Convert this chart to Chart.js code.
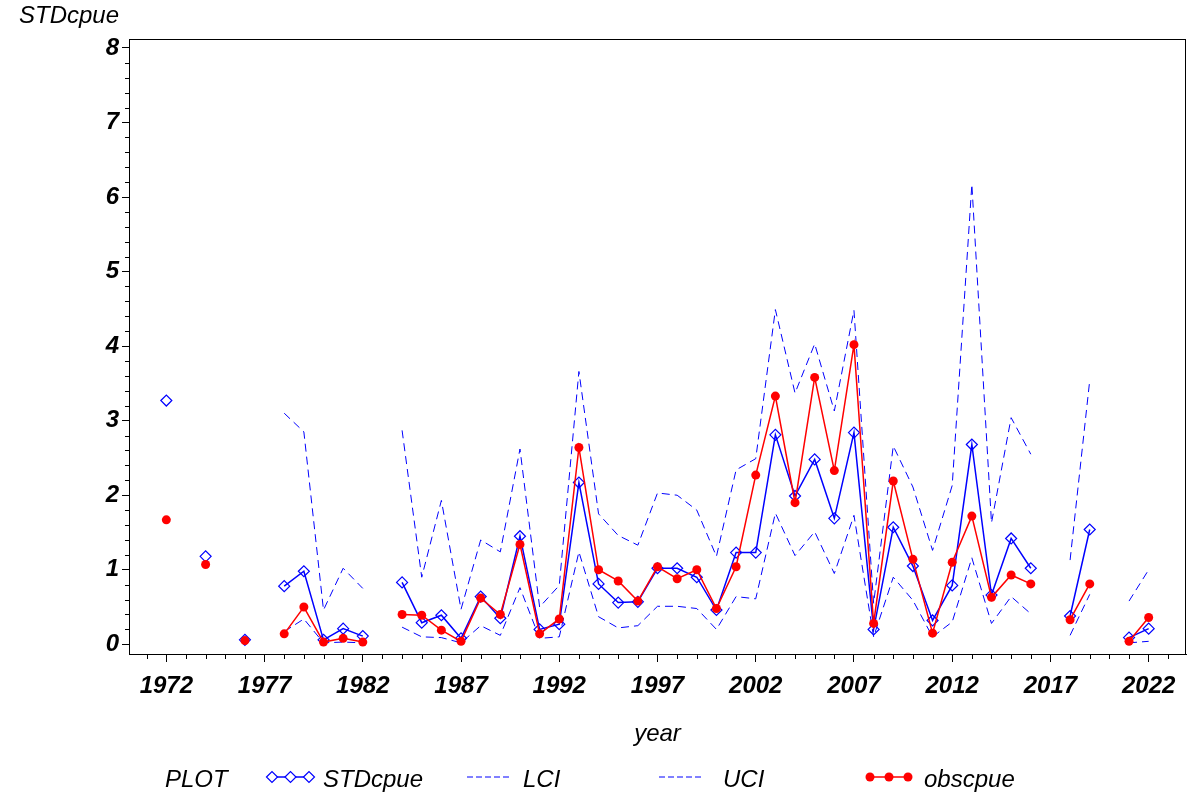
<!DOCTYPE html>
<html>
<head>
<meta charset="utf-8">
<title>STDcpue by year</title>
<script src="https://cdn.jsdelivr.net/npm/chart.js@4.4.0/dist/chart.umd.min.js"></script>
<style>
  html, body { margin: 0; padding: 0; background: #fff; }
  #wrap { width: 1202px; height: 794px; }
</style>
</head>
<body>
<div id="wrap"><canvas id="chartCanvas" width="1202" height="794"></canvas></div>
<script>
// Values (null = no value for that year)
const years = [
  1972, 1973, 1974, 1975, 1976, 1977, 1978, 1979, 1980, 1981,
  1982, 1983, 1984, 1985, 1986, 1987, 1988, 1989, 1990, 1991,
  1992, 1993, 1994, 1995, 1996, 1997, 1998, 1999, 2000, 2001,
  2002, 2003, 2004, 2005, 2006, 2007, 2008, 2009, 2010, 2011,
  2012, 2013, 2014, 2015, 2016, 2017, 2018, 2019, 2020, 2021,
  2022
];
const stdCpue = [
  3.27, null, 1.18, null, 0.06, null, 0.78, 0.98, 0.06, 0.21,
  0.11, null, 0.83, 0.29, 0.39, 0.08, 0.64, 0.35, 1.45, 0.20,
  0.27, 2.17, 0.81, 0.56, 0.57, 1.02, 1.02, 0.90, 0.46, 1.23,
  1.23, 2.81, 1.99, 2.48, 1.69, 2.84, 0.20, 1.57, 1.05, 0.32,
  0.79, 2.68, 0.66, 1.42, 1.02, null, 0.38, 1.54, null, 0.09,
  0.21
];
const obsCpue = [
  1.67, null, 1.07, null, 0.05, null, 0.14, 0.50, 0.03, 0.08,
  0.03, null, 0.40, 0.39, 0.19, 0.04, 0.62, 0.40, 1.34, 0.14,
  0.34, 2.64, 1.00, 0.85, 0.58, 1.04, 0.88, 1.00, 0.48, 1.04,
  2.27, 3.33, 1.90, 3.58, 2.33, 4.02, 0.28, 2.19, 1.14, 0.15,
  1.10, 1.72, 0.63, 0.93, 0.81, null, 0.33, 0.81, null, 0.04,
  0.36
];
const lci = [
  null, null, null, null, null, null, 0.17, 0.34, 0.02, 0.03,
  0.02, null, 0.23, 0.10, 0.09, 0.02, 0.25, 0.12, 0.76, 0.08,
  0.10, 1.24, 0.37, 0.22, 0.25, 0.51, 0.51, 0.48, 0.20, 0.64,
  0.61, 1.76, 1.19, 1.51, 0.95, 1.73, 0.10, 0.90, 0.59, 0.10,
  0.30, 1.16, 0.28, 0.64, 0.41, null, 0.12, 0.67, null, 0.02,
  0.04
];
const uci = [
  null, null, null, null, null, null, 3.10, 2.85, 0.46, 1.02,
  0.75, null, 2.87, 0.90, 1.93, 0.47, 1.40, 1.24, 2.62, 0.50,
  0.79, 3.66, 1.75, 1.46, 1.33, 2.03, 2.00, 1.80, 1.18, 2.34,
  2.49, 4.49, 3.37, 4.03, 3.13, 4.48, 0.55, 2.66, 2.11, 1.26,
  2.13, 6.17, 1.63, 3.04, 2.55, null, 1.13, 3.54, null, 0.58,
  1.00
];
const xTicks = [1972, 1977, 1982, 1987, 1992, 1997, 2002, 2007, 2012, 2017, 2022];
const yTicks = [0, 1, 2, 3, 4, 5, 6, 7, 8];

const FONT = '"Liberation Sans", Arial, Helvetica, sans-serif';
const BLUE = '#0000ff';
const RED = '#ff0000';

const toPoints = arr => years.map((yr, i) => ({ x: yr, y: arr[i] }));

// Minor ticks, top/right frame, the horizontal y title and the bottom legend
const decorations = {
  id: 'decorations',
  afterDraw(chart) {
    const { ctx, chartArea: a, scales: { x, y } } = chart;
    ctx.save();
    ctx.strokeStyle = '#000';
    ctx.lineWidth = 1;
    ctx.strokeRect(a.left + 0.5, a.top + 0.5, a.right - a.left - 1, a.bottom - a.top);

    ctx.beginPath();
    for (let yr = Math.ceil(x.min); yr <= x.max; yr++) {
      if (xTicks.includes(yr)) continue;
      const px = Math.round(x.getPixelForValue(yr)) + 0.5;
      ctx.moveTo(px, a.bottom);
      ctx.lineTo(px, a.bottom + 5);
    }
    for (let k = 0; k <= 40; k++) {
      if (k % 5 === 0) continue;
      const py = Math.round(y.getPixelForValue(k / 5)) + 0.5;
      ctx.moveTo(a.left - 4, py);
      ctx.lineTo(a.left, py);
    }
    ctx.stroke();

    ctx.fillStyle = '#000';
    ctx.font = 'italic 24px ' + FONT;
    ctx.textBaseline = 'alphabetic';
    ctx.fillText('STDcpue', 19, 23);

    // legend row
    const ly = 777;
    const base = 787;
    ctx.fillText('PLOT', 165, base);

    ctx.strokeStyle = BLUE;
    ctx.lineWidth = 1.5;
    ctx.beginPath();
    ctx.moveTo(268, ly);
    ctx.lineTo(312, ly);
    ctx.stroke();
    ctx.fillStyle = '#fff';
    ctx.lineWidth = 1.2;
    [272, 290.5, 309].forEach(px => {
      Chart.helpers.drawPoint(ctx, { pointStyle: 'rectRot', radius: 5.5, borderWidth: 1.2 }, px, ly);
    });
    ctx.fillStyle = '#000';
    ctx.fillText('STDcpue', 323, base);

    ctx.lineWidth = 1;
    ctx.setLineDash([6, 3]);
    ctx.beginPath();
    ctx.moveTo(467, ly); ctx.lineTo(512, ly);
    ctx.moveTo(659, ly); ctx.lineTo(704, ly);
    ctx.stroke();
    ctx.setLineDash([]);
    ctx.fillText('LCI', 523, base);
    ctx.fillText('UCI', 723, base);

    ctx.strokeStyle = RED;
    ctx.fillStyle = RED;
    ctx.lineWidth = 1.5;
    ctx.beginPath();
    ctx.moveTo(868, ly);
    ctx.lineTo(910, ly);
    ctx.stroke();
    [870, 889, 908].forEach(px => {
      ctx.beginPath();
      ctx.arc(px, ly, 4.5, 0, Math.PI * 2);
      ctx.fill();
    });
    ctx.fillStyle = '#000';
    ctx.fillText('obscpue', 924, base);
    ctx.restore();
  }
};

const tickFont = { family: FONT, size: 24, style: 'italic', weight: 'bold' };

new Chart(document.getElementById('chartCanvas').getContext('2d'), {
  type: 'line',
  data: {
    datasets: [
      {
        label: 'STDcpue',
        data: toPoints(stdCpue),
        borderColor: BLUE,
        borderWidth: 1.5,
        pointStyle: 'rectRot',
        pointRadius: 5.5,
        pointBorderWidth: 1.2,
        pointBorderColor: BLUE,
        pointBackgroundColor: 'rgba(0,0,0,0)',
        spanGaps: false,
        order: 3
      },
      {
        label: 'LCI',
        data: toPoints(lci),
        borderColor: BLUE,
        borderWidth: 1,
        borderDash: [8, 5],
        pointRadius: 0,
        spanGaps: false,
        order: 2
      },
      {
        label: 'UCI',
        data: toPoints(uci),
        borderColor: BLUE,
        borderWidth: 1,
        borderDash: [8, 5],
        pointRadius: 0,
        spanGaps: false,
        order: 1
      },
      {
        label: 'obscpue',
        data: toPoints(obsCpue),
        borderColor: RED,
        borderWidth: 1.5,
        pointStyle: 'circle',
        pointRadius: 4.5,
        pointBorderWidth: 0,
        pointBackgroundColor: RED,
        spanGaps: false,
        order: 0
      }
    ]
  },
  options: {
    responsive: false,
    animation: false,
    devicePixelRatio: 1,
    layout: { padding: { left: 0, top: 39, right: 16, bottom: 0 } },
    plugins: { legend: { display: false }, tooltip: { enabled: false } },
    elements: { line: { tension: 0 } },
    scales: {
      x: {
        type: 'linear',
        min: 1970.1,
        max: 2023.9,
        afterBuildTicks: s => { s.ticks = xTicks.map(v => ({ value: v })); },
        afterFit: s => { s.height = 140; },
        ticks: {
          callback: v => String(v),
          font: tickFont,
          color: '#000',
          padding: 10,
          maxRotation: 0,
          autoSkip: false
        },
        grid: { drawOnChartArea: false, tickLength: 8, tickColor: '#000' },
        border: { color: '#000', width: 1 },
        title: {
          display: true,
          text: 'year',
          color: '#000',
          font: { family: FONT, size: 24, style: 'italic' },
          padding: { top: 0, bottom: 45 }
        }
      },
      y: {
        min: -0.13,
        max: 8.12,
        afterBuildTicks: s => { s.ticks = yTicks.map(v => ({ value: v })); },
        afterFit: s => { s.width = 129; },
        ticks: { font: tickFont, color: '#000', padding: 3 },
        grid: { drawOnChartArea: false, tickLength: 7, tickColor: '#000' },
        border: { color: '#000', width: 1 }
      }
    }
  },
  plugins: [decorations]
});
</script>
</body>
</html>
